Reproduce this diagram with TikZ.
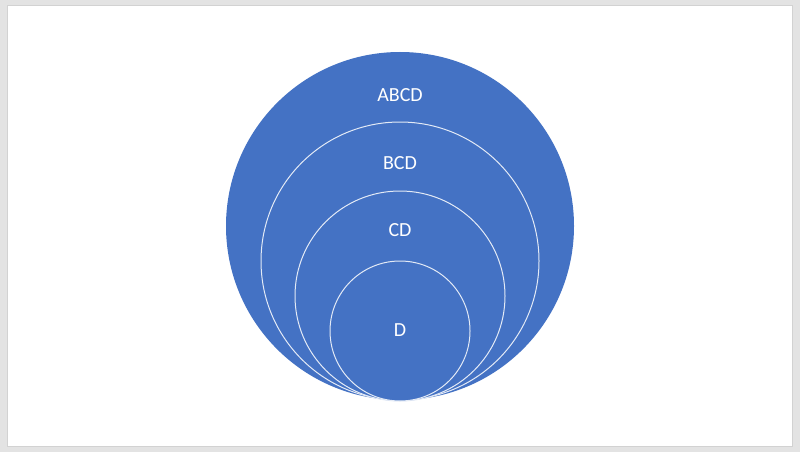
\documentclass[tikz,border=0pt]{standalone}
\usepackage{fontspec}
\setmainfont{Carlito}
\usepackage{tikz}
\usetikzlibrary{positioning}
\definecolor{ringblue}{HTML}{4472C4}
\definecolor{frame}{HTML}{E3E3E3}
\tikzset{ring/.style={circle,fill=ringblue,draw=white!85!ringblue,line width=1pt,inner sep=0pt},
  tag/.style={text=white,font=\fontsize{20}{22}\selectfont,inner sep=0pt},}

\begin{document}
\begin{tikzpicture}[x=1pt,y=-1pt]
    \useasboundingbox (0,0) rectangle (800,452);
    \fill[frame] (0,0) rectangle (800,452);
    \draw[fill=white,draw=gray!35,line width=0.6pt] (7,5) rectangle (792,446);

    \node[ring,draw=none,minimum size=348pt] (abcd) at (400,226) {};
    \node[ring,minimum size=278pt] (bcd) at (400,261) {};
    \node[ring,minimum size=210pt] (cd) at (400,296) {};
    \node[ring,minimum size=140pt] (d) at (400,331) {};

    \node[tag] (tabcd) at (400,95) {ABCD};
    \node[tag] (tbcd) at (400,163) {BCD};
    \node[tag] (tcd) at (400,230) {CD};
    \node[tag] (td) at (400,330) {D};
\end{tikzpicture}
\end{document}
